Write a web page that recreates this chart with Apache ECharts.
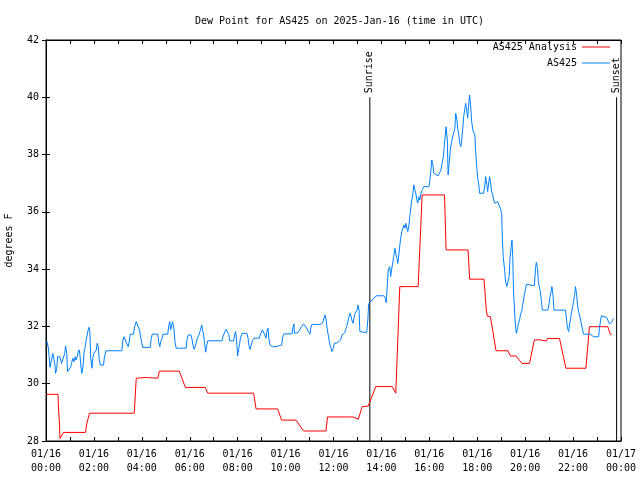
<!DOCTYPE html>
<html>
<head>
<meta charset="utf-8">
<script src="https://cdn.jsdelivr.net/npm/echarts@6/dist/echarts.min.js"></script>
<style>html,body{margin:0;padding:0;background:#fff}#c{width:640px;height:480px}</style>
</head>
<body>
<div id="c"></div>
<script>
// minutes after 2025-01-16 00:00 UTC
const analysisMin = [0,30,31,34,35,39,44,99,102,109,221,226,251,253,280,284,334,349,399,405,
  520,526,580,590,626,645,701,705,757,769,782,792,807,826,867,876,879,886,932,942,
  998,1002,1057,1061,1097,1102,1105,1113,1127,1157,1163,1177,1192,1211,1223,1238,1253,1256,1286,1302,
  1352,1361,1407,1413,1417];
const analysisVal = [29.63,29.63,29.26,28.5,28.09,28.09,28.3,28.3,28.6,28.97,28.97,30.19,30.22,30.19,30.19,30.44,30.44,29.87,29.87,29.67,
  29.67,29.12,29.12,28.73,28.73,28.35,28.35,28.84,28.84,28.84,28.76,29.2,29.22,29.9,29.9,29.67,29.67,33.39,33.39,36.59,
  36.59,34.67,34.67,33.65,33.65,32.69,32.36,32.34,31.15,31.15,30.97,30.97,30.71,30.71,31.53,31.53,31.49,31.58,31.58,30.54,
  30.54,31.99,31.99,31.73,31.73];

const obsMin = [
2,4,6,9,10,14,17,19,22,24,
27,29,35,39,44,47,49,52,54,59,
62,64,67,70,73,75,78,80,83,85,
88,90,93,95,98,100,103,105,108,110,
112,115,117,120,122,126,128,131,133,136,
144,146,150,190,192,195,199,202,206,209,
211,219,222,226,231,234,237,240,242,261,
263,266,280,282,285,287,291,293,305,307,
310,312,315,317,320,323,326,351,353,356,
363,366,368,371,374,376,379,382,385,387,
390,392,395,397,400,402,405,441,443,446,
448,451,453,456,458,460,470,472,475,477,
480,482,485,487,491,503,506,508,511,514,
517,521,534,538,542,545,548,551,553,556,
558,561,567,571,576,580,590,593,596,616,
618,621,622,625,630,635,640,645,649,653,
657,661,663,666,671,676,686,689,692,696,
699,701,704,706,709,711,714,716,718,720,
722,725,730,735,738,741,743,748,753,756,
759,761,764,766,769,771,774,776,779,781,
784,786,790,803,806,808,813,820,828,846,
850,852,855,857,861,863,866,869,871,874,
876,879,881,884,886,889,891,894,896,899,
901,904,906,909,911,914,916,919,921,924,
926,929,931,934,936,939,943,946,959,961,
964,966,969,971,976,982,986,989,992,995,
997,1000,1002,1005,1007,1010,1012,1015,1017,1021,
1024,1026,1029,1031,1034,1036,1039,1041,1044,1046,
1049,1051,1054,1056,1059,1061,1064,1066,1069,1074,
1076,1079,1081,1084,1086,1096,1099,1101,1104,1106,
1109,1111,1114,1116,1119,1121,1124,1126,1129,1131,
1136,1138,1141,1143,1145,1149,1151,1154,1157,1160,
1162,1165,1167,1169,1171,1174,1176,1178,1181,1183,
1186,1188,1191,1193,1196,1198,1201,1203,1206,1223,
1226,1228,1231,1233,1236,1238,1241,1243,1257,1260,
1262,1265,1267,1270,1272,1301,1304,1306,1309,1311,
1314,1316,1319,1321,1324,1326,1329,1331,1334,1336,
1339,1341,1344,1346,1363,1367,1371,1384,1386,1389,
1391,1394,1404,1407,1411,1415,1418,1421];
const obsVal = [
31.49,31.47,31.24,30.77,30.57,30.57,31.06,31.0,30.71,30.36,
30.54,30.94,30.94,30.71,30.71,31.06,31.32,31.06,30.42,30.42,
30.59,30.71,30.89,30.77,30.94,30.83,30.94,31.08,31.18,31.0,
30.54,30.36,30.65,31.06,31.29,31.47,31.7,31.85,31.97,31.76,
30.89,30.54,30.89,31.06,31.06,31.18,31.41,31.29,30.89,30.65,
30.65,30.89,31.15,31.15,31.47,31.64,31.64,31.41,31.29,31.53,
31.73,31.73,31.99,32.17,32.17,31.88,31.64,31.41,31.27,31.27,
31.53,31.73,31.73,31.47,31.29,31.47,31.59,31.73,31.73,31.99,
32.17,31.88,32.05,32.17,31.94,31.47,31.24,31.24,31.53,31.7,
31.7,31.53,31.35,31.2,31.2,31.41,31.59,31.67,31.7,31.88,
32.05,31.88,31.7,31.41,31.1,31.29,31.5,31.5,31.64,31.7,
31.82,31.9,31.94,31.88,31.7,31.5,31.5,31.7,31.82,31.53,
30.97,31.18,31.41,31.59,31.76,31.76,31.59,31.35,31.2,31.35,
31.5,31.59,31.59,31.76,31.88,31.94,31.7,31.59,31.82,31.94,
31.59,31.35,31.29,31.35,31.29,31.35,31.35,31.64,31.74,31.74,
31.94,32.09,31.76,31.7,31.78,31.88,31.99,32.09,32.07,31.94,
31.82,31.73,31.94,32.07,32.05,32.07,32.07,32.03,32.11,32.13,
32.4,32.28,31.94,31.76,31.53,31.35,31.24,31.12,31.06,31.24,
31.41,31.47,31.43,31.47,31.53,31.7,31.76,31.78,31.99,32.17,
32.34,32.46,32.36,32.22,32.11,32.28,32.46,32.4,32.57,32.75,
32.57,31.82,31.78,31.78,32.22,32.78,32.86,32.98,33.07,33.07,
32.98,32.83,33.5,33.97,34.08,33.74,34.03,34.08,34.44,34.73,
34.55,34.38,34.2,34.55,34.84,35.13,35.31,35.43,35.54,35.43,
35.6,35.54,35.31,35.54,35.83,36.18,36.41,36.65,36.94,36.76,
36.65,36.41,36.3,36.53,36.41,36.65,36.79,36.88,36.88,37.05,
37.46,37.81,37.64,37.35,37.29,37.26,37.29,37.46,37.7,37.93,
38.22,38.68,38.97,38.51,37.29,37.75,38.1,38.39,38.54,38.57,
38.92,39.44,39.21,38.92,38.68,38.39,38.28,38.51,38.97,39.32,
39.61,39.79,39.5,39.27,39.85,40.08,39.61,39.15,38.86,38.68,
38.1,37.52,37.17,36.94,36.65,36.65,36.94,37.23,36.94,36.71,
37.05,37.23,36.94,36.71,36.59,36.41,36.3,36.24,36.3,36.36,
36.3,36.12,35.95,35.02,34.44,33.91,33.56,33.39,33.39,33.74,
34.38,34.78,35.02,34.38,33.16,32.4,31.94,31.76,31.94,32.11,
32.22,32.4,32.51,32.69,32.92,33.1,33.33,33.47,33.42,33.42,
34.03,34.24,34.03,33.56,33.33,33.21,32.86,32.57,32.57,32.81,
33.04,33.21,33.39,33.04,32.57,32.57,32.17,31.94,31.82,32.05,
32.28,32.51,32.69,32.86,33.1,33.39,33.1,32.75,32.51,32.4,
32.22,32.05,31.88,31.73,31.73,31.7,31.64,31.64,31.94,32.22,
32.37,32.31,32.31,32.22,32.09,32.09,32.17,32.28];

const eventNames = ['Sunrise', 'Sunset'];
const eventMin = [811, 1429];
const eventTop = 40;
const yMin = 28, yMax = 42, yStep = 2;

const FONT = 'DejaVu Sans Mono';
const txt = {fontFamily: FONT, fontSize: 10, color: '#000'};

function pairs(xs, ys) { return xs.map((x, i) => [x, ys[i]]); }

function eventSeries(name, minute) {
  return {
    type: 'line', name: name, silent: true, z: 1,
    data: [[minute, yMin], {value: [minute, eventTop],
      label: Object.assign({show: true, formatter: name, rotate: 90, position: 'top',
        distance: 4, align: 'left', verticalAlign: 'middle'}, txt)}],
    symbol: 'circle', symbolSize: 0, showSymbol: true,
    lineStyle: {color: '#000', width: 1}, itemStyle: {color: '#000'}
  };
}

function xLabel(v) {
  if (v % 120 !== 0) return '';
  const h = v / 60;
  const d = h >= 24 ? '01/17' : '01/16';
  const hh = String(h % 24).padStart(2, '0');
  return d + '\n' + hh + ':00';
}

const chart = echarts.init(document.getElementById('c'), null, {renderer: 'canvas'});
const axisCommon = {
  axisLine: {show: true, lineStyle: {color: '#000', width: 1}},
  axisTick: {show: true, inside: true, length: 4, lineStyle: {color: '#000'}},
  splitLine: {show: false}
};
const legendCommon = {right: 30, align: 'right', icon: 'rect', itemWidth: 28, itemHeight: 1,
  itemGap: 2, textStyle: txt, padding: 0, selectedMode: false};
chart.setOption({
  animation: false,
  backgroundColor: '#fff',
  textStyle: {fontFamily: FONT},
  title: {text: 'Dew Point for AS425 on 2025-Jan-16 (time in UTC)', left: 190, top: 11,
    textStyle: Object.assign({fontWeight: 'normal'}, txt)},
  legend: [
    Object.assign({data: ['AS425 Analysis'], top: 42}, legendCommon),
    Object.assign({data: ['AS425'], top: 58}, legendCommon)
  ],
  grid: {left: 46, right: 19, top: 40, bottom: 39, show: true, borderColor: '#000', borderWidth: 1,
    containLabel: false, outerBoundsMode: 'none'},
  xAxis: [
    Object.assign({type: 'value', min: 0, max: 1440, interval: 60, position: 'bottom',
      axisLabel: Object.assign({formatter: xLabel, margin: 6, lineHeight: 14, showMinLabel: true, showMaxLabel: true}, txt)}, axisCommon),
    Object.assign({type: 'value', min: 0, max: 1440, interval: 60, position: 'top',
      axisLabel: {show: false}}, axisCommon)
  ],
  yAxis: [
    Object.assign({type: 'value', min: yMin, max: yMax, interval: yStep, position: 'left',
      name: 'degrees F', nameLocation: 'middle', nameGap: 32, nameRotate: 90, nameTextStyle: txt,
      axisLabel: Object.assign({margin: 7}, txt)}, axisCommon),
    Object.assign({type: 'value', min: yMin, max: yMax, interval: yStep, position: 'right',
      axisLabel: {show: false}}, axisCommon)
  ],
  series: [
    {type: 'line', name: 'AS425 Analysis', data: pairs(analysisMin, analysisVal), symbol: 'none',
     color: '#ff0000', lineStyle: {color: '#ff0000', width: 1}, z: 3},
    {type: 'line', name: 'AS425', data: pairs(obsMin, obsVal), symbol: 'none',
     color: '#0080ff', lineStyle: {color: '#0080ff', width: 1}, z: 4},
    eventSeries(eventNames[0], eventMin[0]),
    eventSeries(eventNames[1], eventMin[1])
  ]
});
</script>
</body>
</html>
